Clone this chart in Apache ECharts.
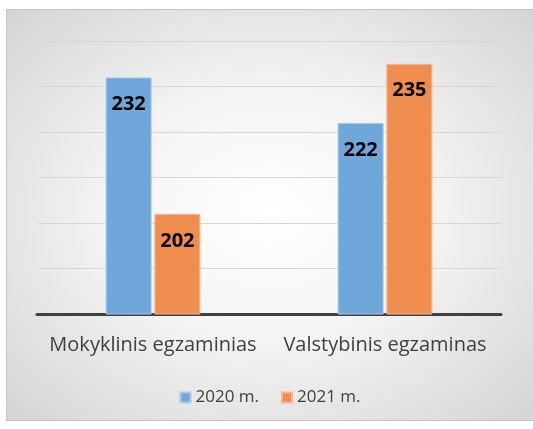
<!DOCTYPE html>
<html>
<head>
<meta charset="utf-8">
<script src="https://cdn.jsdelivr.net/npm/echarts@6/dist/echarts.min.js"></script>
<style>
  html, body { margin: 0; padding: 0; background: #fff; }
  #chart {
    position: absolute;
    left: 6px;
    top: 9px;
    width: 526px;
    height: 410px;
    border: 1px solid #c4c4c4;
    background: radial-gradient(ellipse at center, #ffffff 0%, #f3f3f3 45%, #d4d4d4 100%);
  }
</style>
</head>
<body>
<div id="chart"></div>
<script>
  const categories = ['Mokyklinis egzaminias', 'Valstybinis egzaminas']
  const seriesNames = ['2020 m.', '2021 m.']
  const values2020 = [232, 222]
  const values2021 = [202, 235]

  const blue = '#70a7db'
  const orange = '#ee8d4e'

  const chart = echarts.init(document.getElementById('chart'))

  const labelStyle = {
    show: true,
    position: 'insideTop',
    distance: 17,
    color: '#000',
    fontWeight: 'bold',
    fontSize: 20,
    fontFamily: 'Open Sans'
  }

  chart.setOption({
    animation: false,
    textStyle: { fontFamily: 'Open Sans' },
    grid: {
      left: 30,
      right: 32,
      top: 31,
      bottom: 106
    },
    legend: {
      data: seriesNames,
      bottom: 9,
      left: 'center',
      itemWidth: 10,
      itemHeight: 10,
      itemGap: 22,
      icon: 'rect',
      textStyle: { fontSize: 17, color: '#404040', fontFamily: 'Open Sans' }
    },
    xAxis: {
      type: 'category',
      data: categories,
      axisTick: { show: false },
      axisLine: { lineStyle: { color: '#404040', width: 3 } },
      axisLabel: {
        interval: 0,
        hideOverlap: false,
        fontSize: 20,
        color: '#404040',
        margin: 21,
        fontFamily: 'Open Sans'
      }
    },
    yAxis: {
      type: 'value',
      min: 180,
      max: 240,
      interval: 10,
      axisLabel: { show: false },
      axisLine: { show: false },
      axisTick: { show: false },
      splitLine: { lineStyle: { color: '#d6d6d6', width: 1 } }
    },
    series: [
      {
        name: seriesNames[0],
        type: 'bar',
        data: values2020,
        barWidth: 46,
        barGap: '6%',
        itemStyle: { color: blue, borderColor: '#a9c9ec', borderWidth: 1 },
        label: labelStyle
      },
      {
        name: seriesNames[1],
        type: 'bar',
        data: values2021,
        barWidth: 46,
        itemStyle: { color: orange, borderColor: '#f4b88f', borderWidth: 1 },
        label: labelStyle
      }
    ]
  })
</script>
</body>
</html>
